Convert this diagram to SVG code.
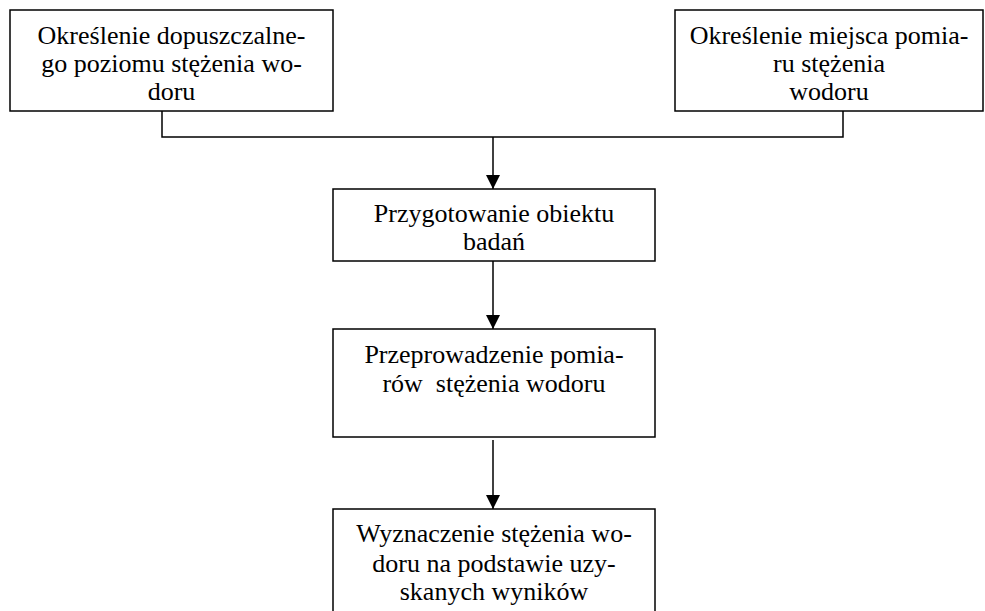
<svg xmlns="http://www.w3.org/2000/svg" width="985" height="611" viewBox="0 0 985 611">
<style>
.box{fill:#fff;stroke:#000;stroke-width:1.5}
.t{font-family:"Liberation Serif","Times New Roman",serif;font-size:26px;fill:#000;text-anchor:middle}
.c{fill:none;stroke:#000;stroke-width:1.5}
</style>
<defs>
<marker id="ah" markerWidth="14" markerHeight="14" refX="14" refY="7" orient="auto" markerUnits="userSpaceOnUse" viewBox="0 0 14 14">
<path d="M0,0 L14,7 L0,14 z" fill="#000"/>
</marker>
</defs>
<rect width="985" height="611" fill="#fff"/>
<g id="connectors">
<path class="c" d="M162,111 V137 H843 V111"/>
<path class="c" d="M493,137 V189" marker-end="url(#ah)"/>
<path class="c" d="M493,261 V329" marker-end="url(#ah)"/>
<path class="c" d="M493,440 V509" marker-end="url(#ah)"/>
</g>
<g id="n1">
<rect class="box" x="10" y="10" width="323" height="101"/>
<text class="t" x="171.5" y="44">Określenie dopuszczalne-</text>
<text class="t" x="171.5" y="72">go poziomu stężenia wo-</text>
<text class="t" x="171.5" y="100">doru</text>
</g>
<g id="n2">
<rect class="box" x="675" y="10" width="308" height="101"/>
<text class="t" x="829" y="44">Określenie miejsca pomia-</text>
<text class="t" x="829" y="72">ru stężenia</text>
<text class="t" x="829" y="100">wodoru</text>
</g>
<g id="n3">
<rect class="box" x="333" y="189" width="322" height="72"/>
<text class="t" x="494" y="222">Przygotowanie obiektu</text>
<text class="t" x="494" y="250">badań</text>
</g>
<g id="n4">
<rect class="box" x="333" y="329" width="322" height="108"/>
<text class="t" x="494" y="363">Przeprowadzenie pomia-</text>
<text class="t" x="494" y="392" xml:space="preserve">rów  stężenia wodoru</text>
</g>
<g id="n5">
<rect class="box" x="333" y="509" width="322" height="110"/>
<text class="t" x="494" y="542">Wyznaczenie stężenia wo-</text>
<text class="t" x="494" y="572">doru na podstawie uzy-</text>
<text class="t" x="494" y="600">skanych wyników</text>
</g>
</svg>
